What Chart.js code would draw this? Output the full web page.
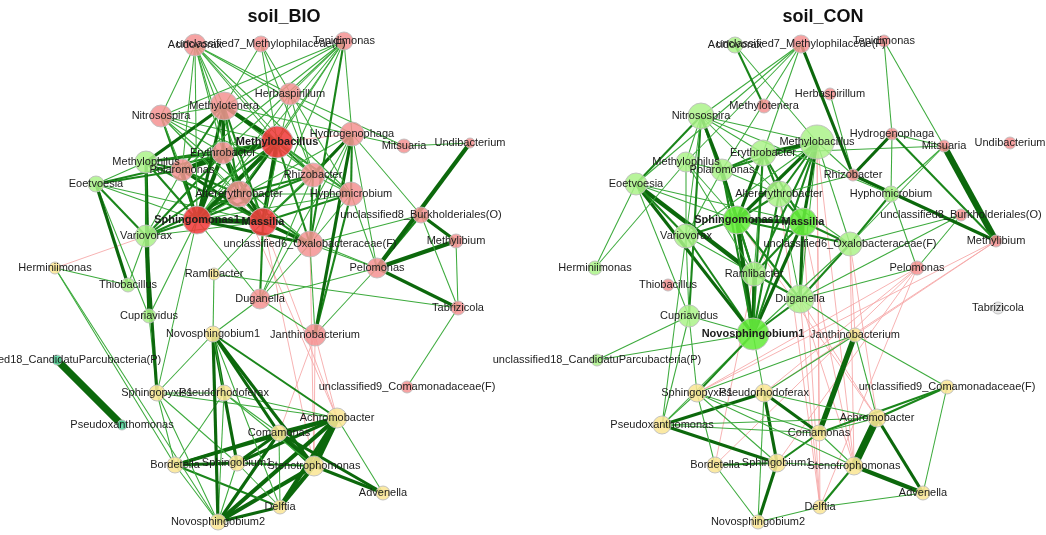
<!DOCTYPE html>
<html>
<head>
<meta charset="utf-8">
<script src="https://cdn.jsdelivr.net/npm/chart.js@4.4.1/dist/chart.umd.min.js"></script>
<style>
  html, body { margin: 0; padding: 0; background: #fff; width: 1046px; height: 535px; overflow: hidden; }
  canvas { position: absolute; top: 0; }
  #bio { left: 0; }
  #con { left: 490px; }
</style>
</head>
<body>
<canvas id="bio" width="568" height="535"></canvas>
<canvas id="con" width="666" height="535"></canvas>
<script>
// Genera (network nodes), shared by both networks
const taxa = [
  'Acidovorax', 'unclassified7_Methylophilaceae(F)', 'Tepidimonas', 'Herbaspirillum',
  'Methylotenera', 'Nitrosospira', 'Hydrogenophaga', 'Mitsuaria', 'Undibacterium',
  'Methylobacillus', 'Erythrobacter', 'Methylophilus', 'Polaromonas', 'Rhizobacter',
  'Eoetvoesia', 'Altererythrobacter', 'Hyphomicrobium', 'Sphingomonas1', 'Massilia',
  'unclassified8_Burkholderiales(O)', 'Variovorax', 'unclassified6_Oxalobacteraceae(F)',
  'Methylibium', 'Herminiimonas', 'Ramlibacter', 'Pelomonas', 'Thiobacillus', 'Duganella',
  'Tabrizicola', 'Cupriavidus', 'Novosphingobium1', 'Janthinobacterium',
  'unclassified18_CandidatuParcubacteria(P)', 'Sphingopyxis1', 'Pseudorhodoferax',
  'Pseudoxanthomonas', 'unclassified9_Comamonadaceae(F)', 'Achromobacter', 'Comamonas',
  'Bordetella', 'Sphingobium1', 'Stenotrophomonas', 'Advenella', 'Delftia', 'Novosphingobium2'
];

// Network layout coordinates (same layout used for both treatments)
const layoutX = [195, 261, 344, 290, 224, 161, 352, 404, 470, 277, 223, 146, 182, 313, 96, 239, 351,
  197, 263, 421, 146, 310, 456, 55, 214, 377, 128, 260, 458, 149, 213, 315, 57, 157, 224, 122, 407,
  337, 279, 175, 237, 314, 383, 280, 218];
const layoutY = [45, 44, 41, 94, 106, 116, 134, 146, 143, 142, 153, 162, 170, 175, 184, 194, 194,
  220, 222, 215, 236, 244, 241, 268, 274, 268, 285, 299, 308, 316, 334, 335, 360, 393, 393, 425, 387,
  418, 433, 465, 463, 466, 493, 507, 522];

// Node degree-based sizes and module of each node, per treatment
const bioSize = [11, 8, 9, 11, 14, 11, 12, 7, 5, 16, 11, 11, 11, 12, 8, 13, 12, 14, 14, 8, 11, 13, 7,
  6, 6, 10, 7, 10, 7, 7, 8, 11, 5, 8, 8, 5, 6, 10, 8, 8, 8, 10, 7, 7, 8];
const bioModule = ['p','p','p','p','p','p','p','p','p','r','p','g','p','p','g','p','p','r','r','p','g','p','p',
  'y','y','p','g','p','p','g','y','p','t','y','y','t','p','y','y','y','y','y','y','y','y'];
const conSize = [8, 9, 6, 6, 7, 13, 6, 6, 6, 17, 13, 10, 11, 6, 11, 13, 8, 14, 14, 6, 12, 12, 6,
  7, 12, 7, 6, 14, 6, 11, 16, 7, 6, 9, 9, 9, 7, 9, 8, 8, 9, 9, 7, 7, 7];
const conModule = ['g','p','p','p','p','g','p','p','p','g','g','g','g','p','g','g','g','G','G','p','g','g','p',
  'g','g','p','p','g','w','g','G','y','g','y','y','y','y','y','y','y','y','y','y','y','y'];

// Hub genera printed in bold
const bioHubs = [9, 17, 18];
const conHubs = [17, 18, 30];

// Correlations: [node, node, strength]; negative strength = negative correlation
const bioEdges = [
  [0,4,1],[0,5,1],[0,10,1],[0,9,1],[0,12,1],[0,15,1],[0,17,1],[0,18,1],[0,13,1],[0,16,1],[0,6,1],[0,3,1],
  [1,4,1],[1,9,1],[1,13,1],[1,16,1],
  [2,5,1],[2,4,1],[2,9,1],[2,10,1],[2,12,1],[2,15,1],[2,18,1],[2,3,1],[2,21,2],[2,17,1],[2,6,1],
  [3,13,1],[3,18,1],[3,7,1],[3,17,1],
  [4,9,4],[4,10,3],[4,17,3],[4,18,2],[4,15,2],[4,12,2],[4,11,3],[4,13,1],[4,16,1],[4,5,1],
  [5,10,1],[5,12,1],[5,9,1],[5,15,1],[5,17,2],[5,18,1],[5,13,1],[5,21,1],
  [6,9,-1],[6,13,3],[6,16,2],[6,18,1],[6,17,1],[6,31,3],[6,21,1],[6,25,1],[6,19,1],[6,27,1],
  [7,8,1],[7,4,1],[8,25,4],
  [9,17,4],[9,18,4],[9,10,3],[9,15,3],[9,12,3],[9,13,2],[9,16,2],[9,21,2],[9,11,2],[9,14,2],[9,20,2],
  [10,17,4],[10,18,3],[10,15,3],[10,12,3],[10,11,2],[10,20,2],
  [11,12,2],[11,17,2],[11,20,2],[11,29,3],[11,14,1],[11,18,2],
  [12,17,3],[12,18,3],[12,15,2],[12,14,2],[12,20,1],
  [13,18,2],[13,17,2],[13,15,2],[13,21,2],[13,16,1],[13,27,1],
  [14,20,2],[14,26,3],[14,17,1],[14,18,1],[14,29,1],
  [15,17,3],[15,18,3],[15,21,2],[15,16,1],[15,20,2],
  [16,18,2],[16,17,1],[16,21,1],[16,25,1],[16,31,2],
  [17,18,5],[17,20,2],[17,21,3],[17,29,1],[17,33,1],[17,27,1],
  [18,21,3],[18,27,2],[18,25,1],[18,20,1],[18,24,1],
  [19,22,3],[19,25,2],[19,21,1],[19,28,1],
  [20,23,-1],[20,29,3],[20,26,1],[20,33,3],
  [21,25,1],[21,27,1],[21,31,1],
  [22,25,4],[22,28,1],
  [23,26,1],[23,39,1],[23,44,1],
  [24,30,1],[24,28,1],
  [25,28,3],[25,27,1],[25,31,1],
  [27,31,1],[27,30,1],[28,36,1],[29,33,1],
  [30,33,1],[30,34,1],[30,38,3],[30,40,3],[30,41,3],[30,44,3],[30,37,2],[30,43,1],
  [31,37,-1],[31,41,-1],[31,38,-1],
  [32,35,7],
  [33,34,1],[33,39,1],[33,44,1],[33,37,1],[33,40,1],
  [34,37,1],[34,41,1],[34,40,1],[34,39,1],[34,38,1],[34,44,1],
  [37,38,4],[37,41,6],[37,40,3],[37,43,4],[37,44,4],[37,39,3],[37,42,1],
  [38,41,5],[38,40,3],[38,44,3],[38,39,3],[38,42,3],[38,43,1],
  [39,40,3],[39,43,2],[39,44,1],
  [40,41,2],[40,44,1],[40,43,1],
  [41,44,4],[41,43,4],[41,42,3],[43,44,3],
  [18,41,-1],[18,37,-1],[15,37,-1],[21,41,-1]
];

const conEdges = [
  [0,4,2],[0,9,1],
  [1,5,1],[1,11,1],[1,10,1],[1,13,3],[1,14,1],[1,12,1],
  [2,6,1],[2,7,1],[3,13,1],
  [5,11,1],[5,12,3],[5,17,2],[5,10,1],[5,9,1],[5,14,2],[5,15,1],[5,16,1],[5,20,1],[5,29,2],
  [6,13,3],[6,7,1],[6,16,1],[6,22,2],
  [7,22,6],[7,16,1],[7,21,1],[7,10,1],
  [13,22,3],[13,15,1],[13,9,1],[13,16,1],
  [16,25,1],[16,21,2],[19,21,1],[19,27,1],[19,25,1],[25,27,1],
  [9,10,3],[9,17,3],[9,18,3],[9,15,2],[9,30,2],[9,24,2],[9,12,2],[9,21,1],[9,27,1],[9,20,1],
  [10,17,3],[10,12,2],[10,18,2],[10,30,2],[10,15,2],[10,24,1],
  [11,12,1],[11,20,1],[11,17,1],[11,24,1],[11,23,1],
  [12,17,3],[12,30,2],[12,24,2],[12,20,1],[12,15,1],
  [14,20,2],[14,23,1],[14,24,4],[14,30,3],[14,29,1],[14,17,1],[14,18,1],
  [15,17,2],[15,18,2],[15,30,2],[15,21,1],[15,27,1],
  [17,18,4],[17,30,4],[17,24,2],[17,20,2],[17,27,2],[17,21,2],
  [18,30,3],[18,21,2],[18,27,3],[18,24,2],
  [20,29,1],[20,30,2],[20,24,1],[20,35,1],
  [21,27,2],[21,30,1],
  [24,30,3],[24,27,2],
  [27,30,2],[27,31,1],
  [29,30,1],[29,33,1],[29,35,1],
  [30,33,2],[30,32,1],[30,35,1],[30,34,1],[32,29,1],
  [33,35,1],[33,39,1],[33,38,1],[33,41,1],[33,40,1],
  [35,34,3],[35,40,3],[35,38,1],[35,37,1],
  [34,40,3],[34,38,3],[34,37,1],[34,44,1],
  [31,38,5],[31,34,1],[31,36,1],[31,37,1],[31,33,1],
  [37,41,7],[37,42,3],[37,38,1],[36,37,2],
  [36,38,2],[36,42,1],
  [41,42,4],[41,43,2],[41,40,1],[41,38,1],
  [43,42,1],[43,44,1],
  [40,44,3],[40,38,2],[40,39,2],[39,44,1],
  [22,31,-1],[22,33,-1],[25,33,-1],[25,34,-1],[25,39,-1],[25,43,-1],
  [9,43,-1],[9,41,-1],[18,41,-1],[18,43,-1],[21,37,-1],[21,41,-1],[27,43,-1],[27,41,-1],
  [24,39,-1],[21,31,-1],[15,43,-1],[17,37,-1],[27,37,-1],[22,34,-1],[25,40,-1],[9,38,-1]
];

const moduleColours = {
  p: 'rgba(245,146,146,0.85)',
  r: 'rgba(240,60,60,0.88)',
  g: 'rgba(172,242,138,0.85)',
  G: 'rgba(102,236,60,0.88)',
  y: 'rgba(250,230,150,0.88)',
  t: 'rgba(90,214,160,0.88)',
  w: 'rgba(228,228,228,0.9)'
};

function edgeColour(w) {
  if (w < 0) return 'rgba(246,166,166,0.85)';
  if (w >= 3) return '#0c680c';
  if (w === 2) return '#1b861b';
  return '#3caa3c';
}

function buildDatasets(edges, sizes, modules) {
  const sets = [];
  edges.forEach(([a, b, w]) => {
    sets.push({
      data: [{ x: layoutX[a], y: layoutY[a] }, { x: layoutX[b], y: layoutY[b] }],
      showLine: true,
      borderColor: edgeColour(w),
      borderWidth: w < 0 ? 1 : Math.max(1, Math.abs(w) * 1.05),
      pointRadius: 0,
      pointHoverRadius: 0,
      clip: false,
      order: w < 0 ? 3 : 2
    });
  });
  sets.push({
    data: taxa.map((t, i) => ({ x: layoutX[i], y: layoutY[i] })),
    pointRadius: sizes,
    pointHoverRadius: sizes,
    pointBackgroundColor: modules.map(m => moduleColours[m]),
    pointBorderColor: 'rgba(190,190,190,0.9)',
    pointBorderWidth: 1,
    clip: false,
    order: 0
  });
  return sets;
}

// Writes each genus name on its node
const nodeLabels = {
  id: 'nodeLabels',
  afterDatasetsDraw(chart, args, opts) {
    const { ctx, scales } = chart;
    ctx.save();
    ctx.textAlign = 'center';
    ctx.textBaseline = 'middle';
    ctx.fillStyle = '#1c1c1c';
    taxa.forEach((name, i) => {
      const bold = opts.hubs.includes(i);
      ctx.font = (bold ? 'bold ' : '') + '11px "Liberation Sans", Arial, sans-serif';
      ctx.fillText(name, scales.x.getPixelForValue(layoutX[i]), scales.y.getPixelForValue(layoutY[i]));
    });
    ctx.restore();
  }
};

function drawNetwork(id, title, edges, sizes, modules, hubs, xMin, xMax) {
  new Chart(document.getElementById(id), {
    type: 'scatter',
    data: { datasets: buildDatasets(edges, sizes, modules) },
    options: {
      responsive: false,
      animation: false,
      devicePixelRatio: 1,
      events: [],
      layout: { padding: 0, autoPadding: false },
      scales: {
        x: { type: 'linear', display: false, min: xMin, max: xMax },
        y: { type: 'linear', display: false, min: 28, max: 535, reverse: true }
      },
      plugins: {
        legend: { display: false },
        tooltip: { enabled: false },
        title: {
          display: true,
          text: title,
          color: '#111',
          font: { family: '"Liberation Sans", Arial, sans-serif', size: 18, weight: 'bold', lineHeight: '22px' },
          padding: { top: 6, bottom: 0 }
        },
        nodeLabels: { hubs }
      }
    },
    plugins: [nodeLabels]
  });
}

drawNetwork('bio', 'soil_BIO', bioEdges, bioSize, bioModule, bioHubs, 0, 568);
drawNetwork('con', 'soil_CON', conEdges, conSize, conModule, conHubs, -50, 616);
</script>
</body>
</html>
